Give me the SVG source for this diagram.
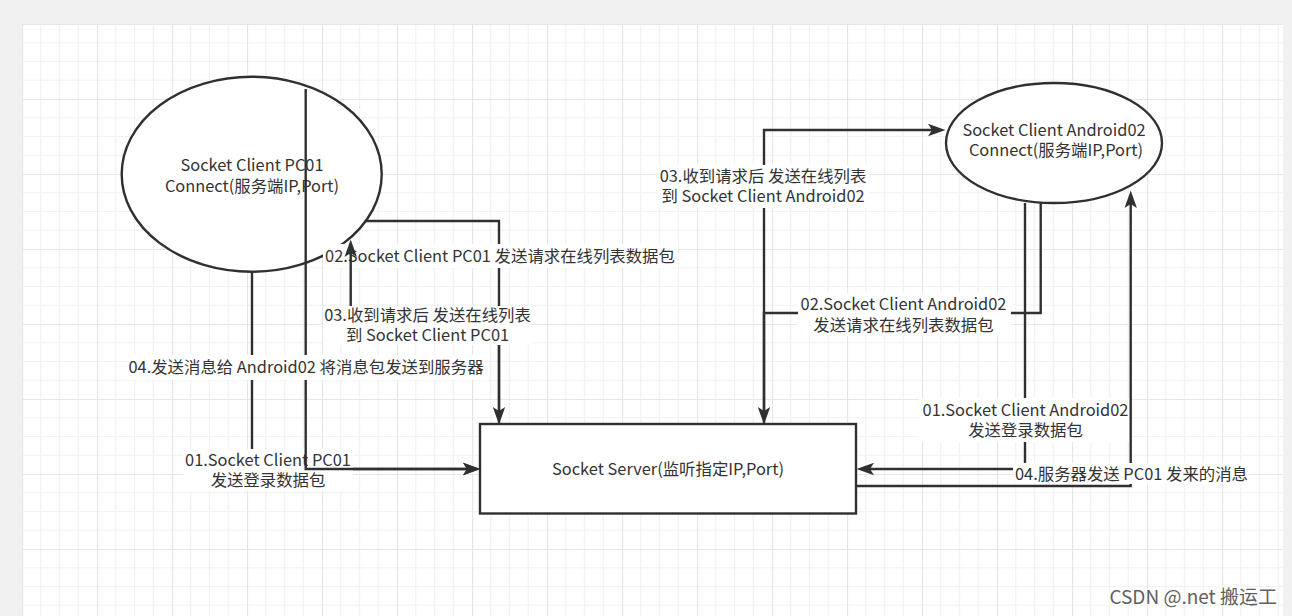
<svg xmlns="http://www.w3.org/2000/svg" width="1292" height="616" viewBox="0 0 1292 616">
<style>
.t{font-family:"Noto Sans CJK SC","Noto Sans",sans-serif;font-size:16.4px;fill:#333;text-anchor:middle}
.node{fill:#fff;stroke:#303030;stroke-width:2.4}
.edge{fill:none;stroke:#303030;stroke-width:2.4}
.lbg{fill:#fff}
.wm{font-family:"Noto Sans CJK SC","Noto Sans",sans-serif;font-size:19px;fill:#606060;text-anchor:end;stroke:#fff;stroke-width:3;paint-order:stroke}
</style>
<defs>
<pattern id="grid" x="22" y="24" width="75" height="75" patternUnits="userSpaceOnUse">
<rect width="75" height="75" fill="#fff"/>
<path d="M18.75,0V75M37.5,0V75M56.25,0V75M0,18.75H75M0,37.5H75M0,56.25H75" stroke="#f2f2f2" stroke-width="1.2"/>
<path d="M0.5,0V75M0,0.5H75" stroke="#e6e6e6" stroke-width="1.2"/>
</pattern>
<marker id="ah" markerUnits="userSpaceOnUse" markerWidth="20" markerHeight="14" viewBox="0 0 20 14" refX="4" refY="7" orient="auto">
<path d="M0,0.8 L17.5,7 L0,13.2 L4,7 Z" fill="#303030"/>
</marker>
</defs>
<rect width="1292" height="616" fill="#f1f1f1"/>
<rect x="22" y="24" width="1261" height="592" fill="url(#grid)"/>

<g id="pc01">
<ellipse class="node" cx="251.7" cy="174.2" rx="130" ry="97.5"/>
<text class="t"><tspan x="252" y="170.5">Socket Client PC01</tspan><tspan x="252" y="191.5">Connect(服务端IP,Port)</tspan></text>
</g>
<g id="android02">
<ellipse class="node" cx="1054" cy="143" rx="108" ry="60"/>
<text class="t"><tspan x="1054" y="135.5">Socket Client Android02</tspan><tspan x="1056" y="156">Connect(服务端IP,Port)</tspan></text>
</g>
<g id="server">
<rect class="node" x="480" y="424" width="376" height="89.5"/>
<text class="t" x="668" y="474.5">Socket Server(监听指定IP,Port)</text>
</g>

<g id="connectors">
<g id="e01pc">
<path class="edge" d="M252,272 V469 H467" marker-end="url(#ah)"/>
<rect class="lbg" x="183" y="449" width="170" height="42"/>
<text class="t"><tspan x="268" y="465.5">01.Socket Client PC01</tspan><tspan x="268" y="485.5">发送登录数据包</tspan></text>
</g>
<g id="e02pc">
<path class="edge" d="M366,221 H499 V411" marker-end="url(#ah)"/>
<rect class="lbg" x="323" y="244" width="355" height="24"/>
<text class="t" x="500" y="261.5">02.Socket Client PC01 发送请求在线列表数据包</text>
</g>
<g id="e03pc">
<path class="edge" d="M499,424 V325 H350.7 V253" marker-end="url(#ah)"/>
<rect class="lbg" x="323" y="306" width="209" height="39"/>
<text class="t"><tspan x="427.5" y="321">03.收到请求后 发送在线列表</tspan><tspan x="427.5" y="340.5">到 Socket Client PC01</tspan></text>
</g>
<g id="e04pc">
<path class="edge" d="M305.7,89 V469 H467" marker-end="url(#ah)"/>
<rect class="lbg" x="127" y="355" width="359" height="25"/>
<text class="t" x="306" y="373">04.发送消息给 Android02 将消息包发送到服务器</text>
</g>
<g id="e02an">
<path class="edge" d="M1040.7,203 V313 H764 V411" marker-end="url(#ah)"/>
<rect class="lbg" x="798" y="293" width="213" height="43"/>
<text class="t"><tspan x="903.5" y="309.5">02.Socket Client Android02</tspan><tspan x="903.5" y="330.5">发送请求在线列表数据包</tspan></text>
</g>
<g id="e03an">
<path class="edge" d="M764,424 V130 H932" marker-end="url(#ah)"/>
<rect class="lbg" x="658" y="165" width="211" height="43"/>
<text class="t"><tspan x="763" y="181.5">03.收到请求后 发送在线列表</tspan><tspan x="763" y="201.5">到 Socket Client Android02</tspan></text>
</g>
<g id="e01an">
<path class="edge" d="M1025,203 V469 H870" marker-end="url(#ah)"/>
<rect class="lbg" x="919" y="398" width="212" height="44"/>
<text class="t"><tspan x="1025.5" y="415.5">01.Socket Client Android02</tspan><tspan x="1025.5" y="435.5">发送登录数据包</tspan></text>
</g>
<g id="e04an">
<path class="edge" d="M856,486 H1130.7 V204" marker-end="url(#ah)"/>
<rect class="lbg" x="1013" y="463" width="236" height="21"/>
<text class="t" x="1131.5" y="480">04.服务器发送 PC01 发来的消息</text>
</g>
</g>

<text class="wm" x="1277" y="604">CSDN @.net 搬运工</text>
</svg>
